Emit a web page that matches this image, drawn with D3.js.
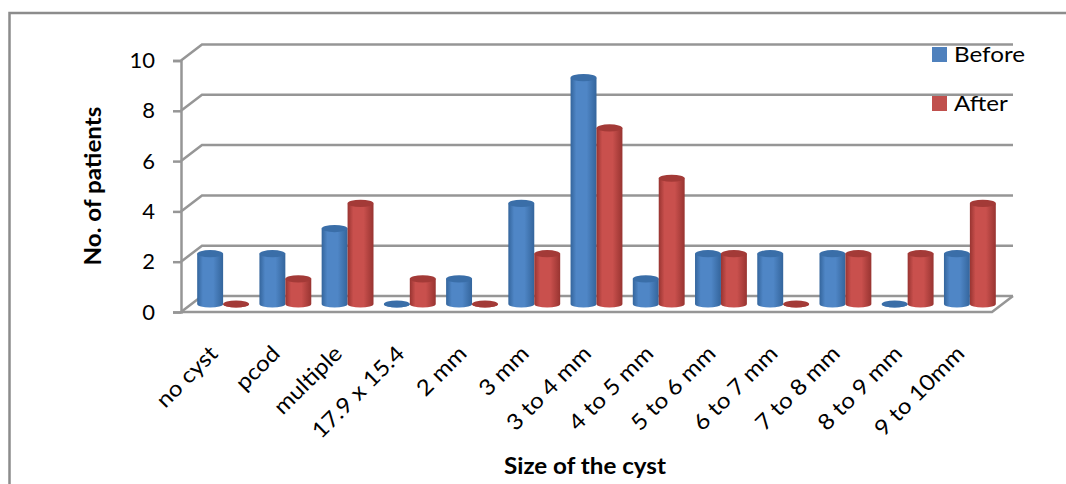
<!DOCTYPE html>
<html>
<head>
<meta charset="utf-8">
<script src="https://cdn.jsdelivr.net/npm/d3@7"></script>
<style>
  html, body { margin: 0; padding: 0; background: #fff; }
  text { font-family: Lato, "Open Sans", sans-serif; fill: #000; }
</style>
</head>
<body>
<div id="chart"></div>
<script>
// values
let categories = ['no cyst', 'pcod', 'multiple', '17.9 x 15.4', '2 mm', '3 mm', '3 to 4 mm',
  '4 to 5 mm', '5 to 6 mm', '6 to 7 mm', '7 to 8 mm', '8 to 9 mm', '9 to 10mm'];
let before = [2, 2, 3, 0, 1, 4, 9, 1, 2, 2, 2, 0, 2];
let after = [0, 1, 4, 1, 0, 2, 7, 5, 2, 0, 2, 2, 4];
let yTicks = [0, 2, 4, 6, 8, 10];
let seriesNames = ['Before', 'After'];

let config = { width: 1066, height: 484 };
config.plot = { left: 181, right: 990, floorRight: 992, top: 60.5, bottom: 312 };
config.depth = { x: 21, y: -16 };  // 3d offset of the back wall
config.barDepth = { x: 11, y: -8 };
let stretch = ' scale(1.1,1)';  // the text in the picture is a little wider than the font

let colors = {
  Before: { dark: '#34659c', mid: '#4f86c6', top: '#3a6ea8' },
  After: { dark: '#983431', mid: '#c9504d', top: '#a33a37' }
};

let svg = d3.select('#chart').append('svg')
  .attr('width', config.width)
  .attr('height', config.height)
  .style('display', 'block');

// frame, only top and left are in the picture
svg.append('path')
  .attr('d', 'M9.5,' + config.height + 'V13H' + config.width)
  .attr('fill', 'none')
  .attr('stroke', '#8c8c8c')
  .attr('stroke-width', 2.5);

let x = d3.scaleBand()
  .domain(categories)
  .range([config.plot.left, config.plot.right]);
let y = d3.scaleLinear()
  .domain([0, 10])
  .range([config.plot.bottom, config.plot.top]);
let xInner = d3.scaleBand()
  .domain(seriesNames)
  .range([0, x.bandwidth()])
  .paddingInner(0)
  .paddingOuter(0.2);

// bar gradients
let defs = svg.append('defs');
seriesNames.forEach(function(name) {
  let g = defs.append('linearGradient').attr('id', 'grad' + name);
  g.append('stop').attr('offset', '0%').attr('stop-color', colors[name].dark);
  g.append('stop').attr('offset', '22%').attr('stop-color', colors[name].mid);
  g.append('stop').attr('offset', '62%').attr('stop-color', colors[name].mid);
  g.append('stop').attr('offset', '100%').attr('stop-color', colors[name].dark);
});

// walls and floor
let grid = '#969696';
let backRight = config.plot.floorRight + config.depth.x;
let walls = svg.append('g').attr('fill', 'none').attr('stroke', grid).attr('stroke-width', 2.5);
walls.selectAll('path.grid')
  .data(yTicks)
  .enter()
  .append('path')
  .attr('class', 'grid')
  .attr('d', function(d) {
    return 'M' + config.plot.left + ',' + y(d) +
      'L' + (config.plot.left + config.depth.x) + ',' + (y(d) + config.depth.y) +
      'H' + backRight;
  });
walls.append('path')
  .attr('d', 'M' + config.plot.left + ',' + config.plot.bottom +
    'H' + config.plot.floorRight +
    'L' + backRight + ',' + (config.plot.bottom + config.depth.y));

// y axis
let yAxis = svg.append('g')
  .attr('transform', 'translate(' + config.plot.left + ',0)')
  .call(d3.axisLeft(y).tickValues(yTicks).tickSize(8).tickPadding(18).tickFormat(d3.format('d')));
yAxis.selectAll('path, line').attr('stroke', grid).attr('stroke-width', 2.5);
yAxis.selectAll('text')
  .style('font-size', '22px')
  .style('font-family', 'Lato');

// bars
seriesNames.forEach(function(name, s) {
  let values = s === 0 ? before : after;
  let w = xInner.bandwidth();
  let bars = svg.append('g')
    .selectAll('g')
    .data(values)
    .enter()
    .append('g')
    .attr('transform', function(d, i) {
      return 'translate(' + (x(categories[i]) + xInner(name) + config.barDepth.x) + ',' + config.barDepth.y + ')';
    });
  let ry = 3.6;
  bars.append('path')
    .attr('fill', 'url(#grad' + name + ')')
    .attr('d', function(d) {
      let r = w / 2;
      return 'M0,' + y(d) + 'V' + y(0) +
        'A' + r + ',' + ry + ' 0 0 0 ' + w + ',' + y(0) +
        'V' + y(d) + 'Z';
    });
  bars.append('ellipse')
    .attr('cx', w / 2)
    .attr('cy', function(d) { return y(d); })
    .attr('rx', w / 2)
    .attr('ry', ry)
    .attr('fill', colors[name].top);
});

// x labels
svg.append('g')
  .selectAll('text')
  .data(categories)
  .enter()
  .append('text')
  .attr('text-anchor', 'end')
  .attr('transform', function(d) {
    return 'translate(' + (x(d) + x.bandwidth() / 2 + 7) + ',' + 355 + ') rotate(-45)' + stretch;
  })
  .style('font-size', '22px')
  .text(function(d) { return d; });

// axis titles
svg.append('text')
  .attr('text-anchor', 'middle')
  .attr('transform', 'translate(101,186) rotate(-90)' + stretch)
  .style('font-size', '22px')
  .style('font-weight', 'bold')
  .text('No. of patients');
svg.append('text')
  .attr('text-anchor', 'middle')
  .attr('transform', 'translate(585,474)' + stretch)
  .style('font-size', '22px')
  .style('font-weight', 'bold')
  .text('Size of the cyst');

// legend
let legendY = d3.scalePoint().domain(seriesNames).range([47, 96]);
let legend = svg.append('g')
  .selectAll('g')
  .data(seriesNames)
  .enter()
  .append('g')
  .attr('transform', function(d) { return 'translate(932,' + legendY(d) + ')'; });
legend.append('rect')
  .attr('width', 15)
  .attr('height', 15)
  .attr('fill', function(d) { return d === 'Before' ? '#4f81bd' : '#c0504d'; });
legend.append('text')
  .attr('transform', 'translate(22,15)' + stretch)
  .style('font-size', '22px')
  .text(function(d) { return d; });
</script>
</body>
</html>
